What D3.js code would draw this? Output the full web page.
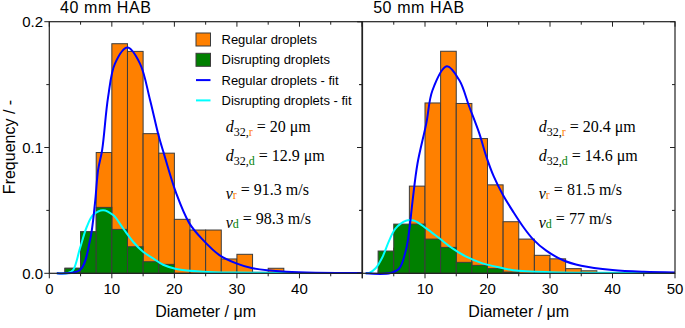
<!DOCTYPE html>
<html>
<head>
<meta charset="utf-8">
<script src="https://cdn.jsdelivr.net/npm/d3@7"></script>
<style>
  body { margin: 0; background: #fff; }
  text { font-family: "Liberation Sans", Arial, sans-serif; fill: #000; }
  .math { font-family: "Liberation Serif", "DejaVu Serif", serif; }
</style>
</head>
<body>
<div id="chart"></div>
<script>
// histogram bins (left edge, um), bin width 2.5
var binStarts = [0, 2.5, 5, 7.5, 10, 12.5, 15, 17.5, 20, 22.5, 25, 27.5, 30, 32.5, 35, 37.5];
var binWidth = 2.5;

// 40 mm HAB
var regular40 = [0, 0.004, 0.033, 0.096, 0.1825, 0.1764, 0.111, 0.0955, 0.0429, 0.0344, 0.0344, 0.0114, 0.0151, 0.0008, 0.004, 0];
var disrupt40 = [0, 0.004, 0.033, 0.0524, 0.0349, 0.0211, 0.0092, 0.0071, 0, 0, 0, 0, 0, 0, 0, 0];

// 50 mm HAB
var regular50 = [0, 0.002, 0.02, 0.0693, 0.1354, 0.1765, 0.135, 0.1071, 0.0703, 0.041, 0.0272, 0.0143, 0.0115, 0.0037, 0.002, 0];
var disrupt50 = [0, 0.0177, 0.0391, 0.0391, 0.0272, 0.0206, 0.0087, 0.0063, 0.0037, 0.001, 0, 0, 0, 0, 0, 0];

// fit curves: diameter (um) and frequency
var fitRegD40 = [1.2, 4.9, 6.5, 7.3, 7.8, 8.45, 9.4, 10.5, 12.5, 14.5, 16.1, 17.4, 18.3, 20.3, 22.4, 24.6, 27.2, 29.9, 32.5, 37.9, 50];
var fitRegF40 = [0, 0.0026, 0.026, 0.0555, 0.082, 0.098, 0.14, 0.1667, 0.1794, 0.1667, 0.138, 0.111, 0.0955, 0.0635, 0.0397, 0.0264, 0.0145, 0.0079, 0.004, 0.0013, 0.0002];
var fitDisD40 = [1.2, 3.0, 3.8, 4.9, 6.0, 7.0, 8.6, 10.2, 11.8, 13.4, 15.0, 16.6, 18.2, 20.3, 24.6, 30, 50];
var fitDisF40 = [0, 0.0003, 0.0026, 0.0198, 0.037, 0.0463, 0.0502, 0.0463, 0.0357, 0.0251, 0.0171, 0.0119, 0.0068, 0.0035, 0.0013, 0.0006, 0.0002];

var fitRegD50 = [0.5, 4.5, 5.9, 6.95, 7.5, 8.0, 8.8, 10.2, 11.2, 13.5, 15.5, 17.1, 18.7, 19.8, 21, 22.5, 24.1, 25.7, 27.3, 29.4, 32, 35, 40, 45, 50];
var fitRegF50 = [0, 0.0002, 0.004, 0.0185, 0.035, 0.057, 0.0873, 0.119, 0.1455, 0.1645, 0.1534, 0.1322, 0.111, 0.093, 0.077, 0.062, 0.049, 0.037, 0.027, 0.018, 0.0106, 0.006, 0.0026, 0.0012, 0.0007];
var fitDisD50 = [0.5, 1.1, 2.1, 3.2, 4.3, 5.3, 6.95, 8.3, 10.2, 12.3, 14.4, 16.6, 19.2, 21.4, 24.1, 30, 40, 50];
var fitDisF50 = [0, 0.0003, 0.004, 0.013, 0.0264, 0.0357, 0.0418, 0.0418, 0.0357, 0.0278, 0.0198, 0.0132, 0.0079, 0.0052, 0.0025, 0.0009, 0.0004, 0.0003];

var panelTitles = ["40 mm HAB", "50 mm HAB"];
var yTicks = [0, 0.1, 0.2];
var legendLabels = ["Regular droplets", "Disrupting droplets", "Regular droplets - fit", "Disrupting droplets - fit"];
var annot40 = ["20", "12.9", "91.3", "98.3"];
var annot50 = ["20.4", "14.6", "81.5", "77"];

var cOrange = "#ff8000", cGreen = "#008000", cBlue = "#0000ff", cCyan = "#00ffff", cEdge = "#3c3c3c";

var W = 685, H = 328;
var svg = d3.select("#chart").append("svg")
    .attr("width", W)
    .attr("height", H);

var y = d3.scaleLinear().domain([0, 0.2]).range([273.3, 21.7]);

var panels = [
    { x0: 49.3, x1: 362, reg: regular40, dis: disrupt40, fr: [fitRegD40, fitRegF40], fd: [fitDisD40, fitDisF40], annot: annot40, labels: [0, 10, 20, 30, 40], yLabels: true },
    { x0: 362.5, x1: 675, reg: regular50, dis: disrupt50, fr: [fitRegD50, fitRegF50], fd: [fitDisD50, fitDisF50], annot: annot50, labels: [10, 20, 30, 40, 50], yLabels: false }
];

panels.forEach(function (p, pi) {
    var x = d3.scaleLinear().domain([0, 50]).range([p.x0, p.x1]);
    var g = svg.append("g");

    // bars - regular first, disrupting on top
    [[p.reg, cOrange], [p.dis, cGreen]].forEach(function (s) {
        g.selectAll(null)
            .data(binStarts.map(function (b, i) { return { b: b, v: s[0][i] }; }).filter(function (d) { return d.v > 0; }))
            .enter()
            .append("rect")
            .attr("x", function (d) { return x(d.b); })
            .attr("width", function (d) { return x(d.b + binWidth) - x(d.b); })
            .attr("y", function (d) { return y(d.v); })
            .attr("height", function (d) { return y(0) - y(d.v); })
            .style("fill", s[1])
            .style("stroke", cEdge)
            .style("stroke-width", 1);
    });

    // fit curves
    var line = d3.line()
        .x(function (d) { return x(d[0]); })
        .y(function (d) { return y(Math.max(0, d[1])); })
        .curve(d3.curveCatmullRom.alpha(0.5));
    [[p.fd, cCyan], [p.fr, cBlue]].forEach(function (s) {
        var pts = s[0][0].map(function (d, i) { return [d, s[0][1][i]]; });
        g.append("path")
            .attr("d", line(pts))
            .style("fill", "none")
            .style("stroke", s[1])
            .style("stroke-width", 2);
    });

    // frame
    g.append("rect")
        .attr("x", p.x0).attr("y", y(0.2))
        .attr("width", p.x1 - p.x0).attr("height", y(0) - y(0.2))
        .style("fill", "none").style("stroke", "#222").style("stroke-width", 1.2);

    // x ticks: outward at the bottom, inward at the top
    var ticksX = d3.range(0, 51, 5);
    ticksX.forEach(function (t) {
        var major = t % 10 === 0;
        g.append("line").attr("x1", x(t)).attr("x2", x(t))
            .attr("y1", y(0)).attr("y2", y(0) + (major ? 5 : 3))
            .style("stroke", "#222");
        g.append("line").attr("x1", x(t)).attr("x2", x(t))
            .attr("y1", y(0.2)).attr("y2", y(0.2) + (major ? 5 : 3))
            .style("stroke", "#222");
    });
    g.selectAll(null).data(p.labels).enter().append("text")
        .attr("x", function (d) { return x(d); })
        .attr("y", 294)
        .attr("text-anchor", "middle")
        .style("font-size", "15px")
        .text(function (d) { return d; });

    // y ticks
    var ticksY = d3.range(0, 0.2001, 0.05);
    ticksY.forEach(function (t, i) {
        var major = i % 2 === 0;
        g.append("line").attr("x1", p.x0).attr("x2", p.x0 - (major ? 5 : 3))
            .attr("y1", y(t)).attr("y2", y(t)).style("stroke", "#222");
        g.append("line").attr("x1", p.x1).attr("x2", p.x1 - (major ? 5 : 3))
            .attr("y1", y(t)).attr("y2", y(t)).style("stroke", "#222");
    });
    if (p.yLabels) {
        g.selectAll(null).data(yTicks).enter().append("text")
            .attr("x", 43)
            .attr("y", function (d) { return y(d); })
            .attr("dy", "0.35em")
            .attr("text-anchor", "end")
            .style("font-size", "15px")
            .text(function (d) { return d3.format(".1f")(d); });
    }

    // titles
    g.append("text")
        .attr("x", x(1.7)).attr("y", 13)
        .style("font-size", "16px")
        .style("letter-spacing", "0.6px")
        .text(panelTitles[pi]);
    g.append("text")
        .attr("x", (p.x0 + p.x1) / 2).attr("y", 317)
        .attr("text-anchor", "middle")
        .style("font-size", "16px")
        .text("Diameter / \u03bcm");

    // annotations
    var ax = x(28.2);
    var rows = [
        { v: "d", sub: "32,", key: "r", col: cOrange, val: p.annot[0] + " \u03bcm", yy: 132 },
        { v: "d", sub: "32,", key: "d", col: cGreen, val: p.annot[1] + " \u03bcm", yy: 161 },
        { v: "v", sub: "", key: "r", col: cOrange, val: p.annot[2] + " m/s", yy: 199 },
        { v: "v", sub: "", key: "d", col: cGreen, val: p.annot[3] + " m/s", yy: 227.5 }
    ];
    rows.forEach(function (r) {
        var t = g.append("text").attr("class", "math")
            .attr("x", ax).attr("y", r.yy).style("font-size", "16px");
        t.append("tspan").style("font-style", "italic").text(r.v);
        t.append("tspan").attr("dy", 4).style("font-size", "12px").text(r.sub);
        t.append("tspan").style("font-size", "12px").style("fill", r.col).text(r.key);
        t.append("tspan").attr("dy", -4).text(" = " + r.val);
    });
});

// legend (in the left panel)
var lg = svg.append("g");
legendLabels.forEach(function (l, i) {
    var yy = 39.5 + i * 20.3;
    if (i < 2) {
        lg.append("rect").attr("x", 196).attr("y", yy - 6.5).attr("width", 14.5).attr("height", 13)
            .style("fill", i === 0 ? cOrange : cGreen).style("stroke", cEdge);
    } else {
        lg.append("line").attr("x1", 196).attr("x2", 210.5).attr("y1", yy).attr("y2", yy)
            .style("stroke", i === 2 ? cBlue : cCyan).style("stroke-width", 2);
    }
    lg.append("text").attr("x", 221.5).attr("y", yy).attr("dy", "0.35em")
        .style("font-size", "13px").text(l);
});

// y axis title
svg.append("text")
    .attr("transform", "translate(15,147) rotate(-90)")
    .attr("text-anchor", "middle")
    .style("font-size", "16px")
    .text("Frequency / -");
</script>
</body>
</html>
